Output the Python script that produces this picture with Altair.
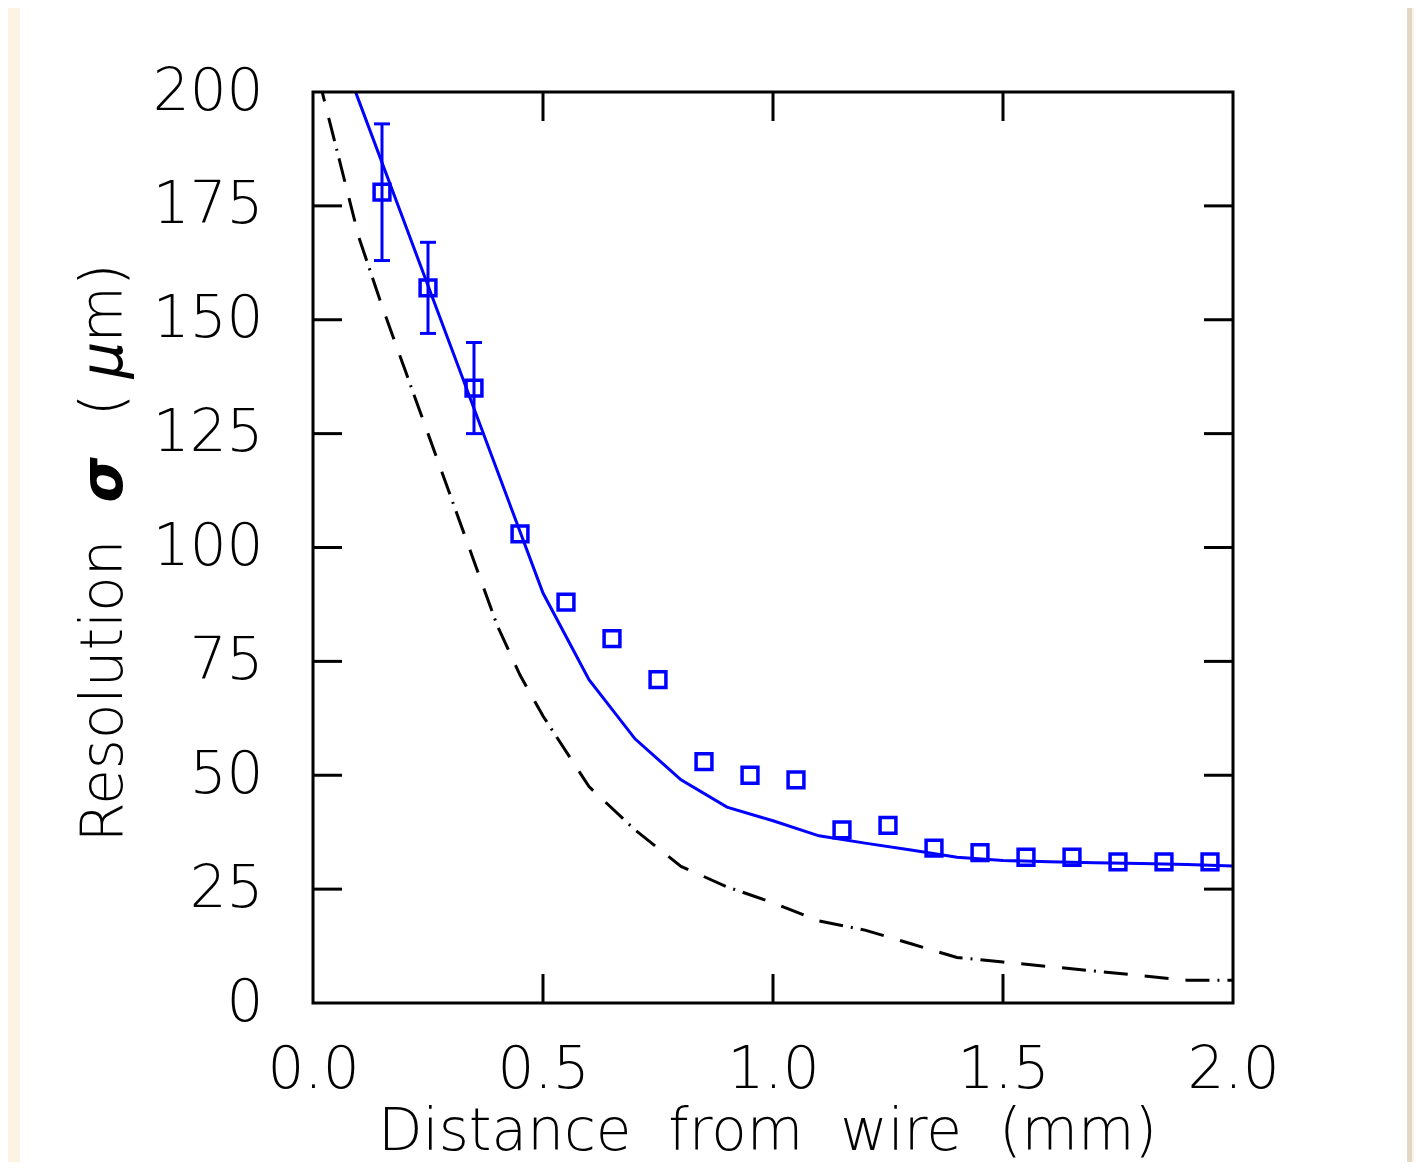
import altair as alt
import pandas as pd

# measured points (squares)
pt_x = [0.15, 0.25, 0.35, 0.45, 0.55, 0.65, 0.75, 0.85, 0.95, 1.05,
        1.15, 1.25, 1.35, 1.45, 1.55, 1.65, 1.75, 1.85, 1.95]
pt_y = [178, 157, 135, 103, 88, 80, 71, 53, 50, 49,
        38, 39, 34, 33, 32, 32, 31, 31, 31]

# error bars
err_x = [0.15, 0.25, 0.35]
err_lo = [163, 147, 125]
err_hi = [193, 167, 145]

# blue solid curve
fit_x = [0.0, 0.1, 0.2, 0.3, 0.4, 0.5, 0.6, 0.7, 0.8, 0.9, 1.0,
         1.1, 1.2, 1.3, 1.4, 1.5, 1.6, 1.7, 1.8, 1.9, 2.0]
fit_y = [225, 198, 171, 144, 117, 90, 71, 58, 49, 43, 40,
         36.7, 35.1, 33.6, 32.0, 31.3, 31.0, 30.8, 30.6, 30.4, 30.1]

# black dashed curve
dash_x = [0.0, 0.02, 0.05, 0.08, 0.1, 0.15, 0.2, 0.25, 0.3, 0.35, 0.4, 0.45,
          0.5, 0.6, 0.7, 0.8, 0.9, 1.0, 1.1, 1.2, 1.3, 1.4, 1.5, 1.6,
          1.7, 1.8, 1.9, 2.0]
dash_y = [212, 200, 188, 176, 168, 153, 139, 125, 111, 97, 83, 72,
          63, 47.5, 38, 30, 25.5, 22, 18, 16, 13, 10, 9, 8,
          7, 6, 5, 5]

x_ticks = [0.0, 0.5, 1.0, 1.5, 2.0]
y_ticks = [0, 25, 50, 75, 100, 125, 150, 175, 200]
x_minor = [0.5, 1.0, 1.5]
y_minor = [25, 50, 75, 100, 125, 150, 175]

x_title = "Distance\u00a0\u00a0from\u00a0\u00a0wire\u00a0\u00a0(mm)"
y_title_parts = ["Resolution", "σ", "(", "μ", "m)"]

FONT = "DejaVu Sans"
W, H = 920, 911
BLUE = "#0000ff"

pts = pd.DataFrame({"x": pt_x, "y": pt_y})
errs = pd.DataFrame({"x": err_x, "lo": err_lo, "hi": err_hi})
fit = pd.DataFrame({"x": fit_x, "y": fit_y})
dsh = pd.DataFrame({"x": dash_x, "y": dash_y})
one = pd.DataFrame({"a": [0]})

xs = alt.Scale(domain=[0, 2], nice=False, zero=False)
ys = alt.Scale(domain=[0, 200], nice=False, zero=False)

xaxis = alt.Axis(values=x_ticks, format=".1f", title=x_title, domain=False, ticks=False,
                 grid=False, labelFont=FONT, labelFontSize=58, labelFontWeight=200,
                 labelColor="black", labelPadding=38, titleFont=FONT, titleFontSize=58,
                 titleFontWeight=200, titleColor="black", titleBaseline="alphabetic",
                 titleY=146, titleX=454, zindex=1, labelFlush=False, labelOverlap=False)
yaxis = alt.Axis(values=y_ticks, format="d", title=None, domain=False, ticks=False,
                 grid=False, labelFont=FONT, labelFontSize=58, labelFontWeight=200,
                 labelColor="black", labelPadding=50, zindex=1, labelFlush=False,
                 labelOverlap=False)

shadow = alt.Chart(one).mark_rect(color="#e3d8c6").encode(
    x=alt.value(-291), x2=alt.value(1099), y=alt.value(-84), y2=alt.value(1100))
card = alt.Chart(one).mark_rect(color="white").encode(
    x=alt.value(-293), x2=alt.value(1094), y=alt.value(-85), y2=alt.value(1100))

dashed = alt.Chart(dsh).mark_line(color="black", strokeWidth=3, clip=True,
                                  strokeDash=[24, 17, 24, 17, 24, 8, 2, 8]).encode(
    x=alt.X("x:Q", scale=xs, axis=xaxis), y=alt.Y("y:Q", scale=ys, axis=yaxis))
solid = alt.Chart(fit).mark_line(color=BLUE, strokeWidth=3, clip=True).encode(
    x=alt.X("x:Q", scale=xs), y=alt.Y("y:Q", scale=ys))
squares = alt.Chart(pts).mark_point(shape="square", filled=False, size=250,
                                    strokeWidth=3.5, color=BLUE, opacity=1).encode(
    x=alt.X("x:Q", scale=xs), y=alt.Y("y:Q", scale=ys))
ebar = alt.Chart(errs).mark_rule(color=BLUE, strokeWidth=3).encode(
    x=alt.X("x:Q", scale=xs), y=alt.Y("lo:Q", scale=ys), y2="hi:Q")
cap_lo = alt.Chart(errs).mark_rule(color=BLUE, strokeWidth=3, xOffset=-8, x2Offset=8).encode(
    x=alt.X("x:Q", scale=xs), x2="x:Q", y=alt.Y("lo:Q", scale=ys))
cap_hi = alt.Chart(errs).mark_rule(color=BLUE, strokeWidth=3, xOffset=-8, x2Offset=8).encode(
    x=alt.X("x:Q", scale=xs), x2="x:Q", y=alt.Y("hi:Q", scale=ys))

xm = pd.DataFrame({"x": x_minor})
ym = pd.DataFrame({"y": y_minor})
tick_b = alt.Chart(xm).mark_rule(color="black", strokeWidth=3).encode(
    x=alt.X("x:Q", scale=xs), y=alt.value(H), y2=alt.value(H - 29))
tick_t = alt.Chart(xm).mark_rule(color="black", strokeWidth=3).encode(
    x=alt.X("x:Q", scale=xs), y=alt.value(0), y2=alt.value(29))
tick_l = alt.Chart(ym).mark_rule(color="black", strokeWidth=3).encode(
    y=alt.Y("y:Q", scale=ys), x=alt.value(0), x2=alt.value(29))
tick_r = alt.Chart(ym).mark_rule(color="black", strokeWidth=3).encode(
    y=alt.Y("y:Q", scale=ys), x=alt.value(W - 29), x2=alt.value(W))
frame = alt.Chart(one).mark_rect(fill=None, stroke="black", strokeWidth=3, fillOpacity=0).encode(
    x=alt.value(0), x2=alt.value(W), y=alt.value(0), y2=alt.value(H))


def ytext(t, ypos, **kw):
    style = dict(angle=270, font=FONT, fontSize=58, fontWeight=200, color="black",
                 align="center", baseline="middle")
    style.update(kw)
    return alt.Chart(pd.DataFrame({"t": [t]})).mark_text(**style).encode(
        text="t:N", x=alt.value(-208), y=alt.value(ypos))


yt1 = ytext(y_title_parts[0], 599)
yt2 = ytext(y_title_parts[1], 388, fontWeight="bold", fontStyle="italic")
yt3 = ytext(y_title_parts[2], 313)
yt4 = ytext(y_title_parts[3], 268, fontStyle="italic")
yt5 = ytext(y_title_parts[4], 211)

chart = alt.layer(
    shadow, card, dashed, solid, ebar, cap_lo, cap_hi, squares,
    tick_b, tick_t, tick_l, tick_r, frame, yt1, yt2, yt3, yt4, yt5
).properties(
    width=W, height=H,
    autosize=alt.AutoSizeParams(type="none"),
    padding={"left": 305, "top": 84, "right": 181, "bottom": 159},
    background="#fdf3e3",
).configure_view(stroke=None)

chart.save("out.html", embed_options={"renderer": "svg", "actions": False})
